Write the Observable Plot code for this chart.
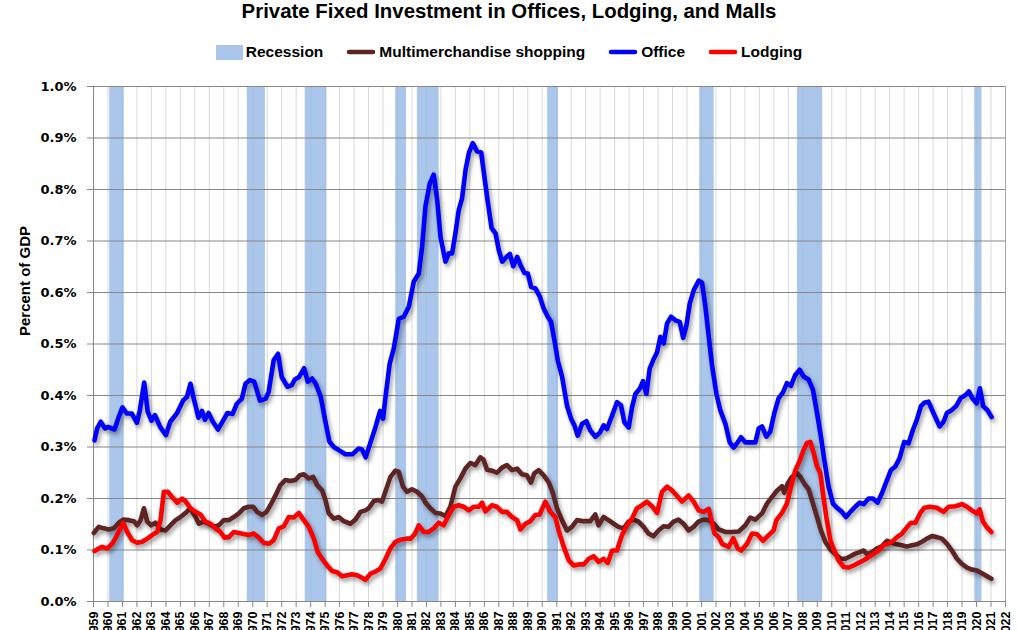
<!DOCTYPE html>
<html><head><meta charset="utf-8">
<script src="https://cdn.jsdelivr.net/npm/d3@7"></script>
<script src="https://cdn.jsdelivr.net/npm/@observablehq/plot@0.6"></script>
<style>
body{margin:0;background:#fff;width:1018px;overflow:hidden;}
#title{height:30px;line-height:30px;text-align:center;font:bold 20.4px "Liberation Sans",Arial,sans-serif;color:#000;}
#legend{height:44px;display:flex;justify-content:center;align-items:center;gap:23px;font:bold 15.5px "Liberation Sans",Arial,sans-serif;color:#000;}
.item{display:flex;align-items:center;gap:3px;}
#chart svg{display:block;}
#chart g[aria-label="line"]{filter:drop-shadow(2px 3px 2px rgba(0,0,0,0.4));}
#chart g[aria-label="y-axis tick label"]{font-family:"DejaVu Sans",sans-serif;font-weight:bold;font-size:13px;}
#chart g[aria-label="x-axis tick label"]{font-family:"Liberation Sans",Arial,sans-serif;font-weight:bold;font-size:12.5px;}
</style></head>
<body>
<div id="title">Private Fixed Investment in Offices, Lodging, and Malls</div>
<div id="legend"></div>
<div id="chart"></div>
<script>
const seriesNames = ["Recession", "Multimerchandise shopping", "Office", "Lodging"];
const seriesColors = ["#aac6ea", "#5e2323", "#0000ff", "#ff0000"];
const years = d3.range(1959, 2023);
const yTicks = [0, 0.1, 0.2, 0.3, 0.4, 0.5, 0.6, 0.7, 0.8, 0.9, 1.0];
const recStart = [1960.125, 1969.625, 1973.625, 1979.875, 1981.375, 1990.375, 2000.875, 2007.625, 2019.875];
const recEnd   = [1961.125, 1970.875, 1975.125, 1980.625, 1982.875, 1991.125, 2001.875, 2009.375, 2020.375];

const office = [[1959.07,0.313],[1959.25,0.336],[1959.5,0.349],[1959.8,0.336],[1960.0,0.339],[1960.45,0.334],[1960.7,0.355],[1961.0,0.377],[1961.3,0.365],[1961.65,0.365],[1962.0,0.347],[1962.2,0.371],[1962.5,0.425],[1962.75,0.368],[1963.0,0.351],[1963.25,0.362],[1963.6,0.339],[1964.0,0.323],[1964.3,0.349],[1964.75,0.365],[1965.2,0.391],[1965.45,0.397],[1965.7,0.423],[1965.9,0.397],[1966.25,0.357],[1966.5,0.37],[1966.7,0.353],[1966.95,0.366],[1967.25,0.349],[1967.6,0.334],[1967.9,0.349],[1968.25,0.366],[1968.6,0.364],[1968.9,0.384],[1969.25,0.394],[1969.5,0.423],[1969.8,0.43],[1970.1,0.427],[1970.5,0.39],[1970.9,0.394],[1971.1,0.407],[1971.45,0.469],[1971.75,0.481],[1972.0,0.436],[1972.4,0.417],[1972.7,0.42],[1972.9,0.431],[1973.2,0.436],[1973.55,0.453],[1973.8,0.427],[1974.1,0.433],[1974.35,0.423],[1974.7,0.397],[1975.0,0.352],[1975.3,0.31],[1975.6,0.3],[1975.95,0.294],[1976.4,0.286],[1976.9,0.286],[1977.3,0.297],[1977.55,0.295],[1977.8,0.28],[1978.1,0.306],[1978.45,0.336],[1978.8,0.37],[1979.0,0.355],[1979.17,0.397],[1979.46,0.462],[1979.74,0.491],[1980.09,0.549],[1980.43,0.553],[1980.78,0.572],[1981.12,0.621],[1981.47,0.637],[1981.7,0.689],[1981.93,0.767],[1982.23,0.812],[1982.5,0.829],[1982.74,0.78],[1982.97,0.708],[1983.31,0.66],[1983.54,0.676],[1983.77,0.676],[1984.0,0.715],[1984.23,0.76],[1984.46,0.783],[1984.7,0.838],[1984.93,0.871],[1985.2,0.89],[1985.5,0.874],[1985.78,0.872],[1986.0,0.825],[1986.25,0.773],[1986.5,0.725],[1986.77,0.715],[1987.0,0.682],[1987.23,0.66],[1987.53,0.669],[1987.76,0.675],[1987.99,0.651],[1988.27,0.669],[1988.5,0.653],[1988.77,0.638],[1989.0,0.637],[1989.23,0.611],[1989.53,0.608],[1989.83,0.592],[1990.1,0.569],[1990.38,0.553],[1990.61,0.543],[1990.84,0.507],[1991.07,0.468],[1991.37,0.436],[1991.71,0.38],[1991.99,0.355],[1992.22,0.342],[1992.45,0.322],[1992.75,0.345],[1993.05,0.35],[1993.32,0.332],[1993.67,0.32],[1993.96,0.327],[1994.24,0.342],[1994.47,0.335],[1994.82,0.361],[1995.16,0.387],[1995.44,0.381],[1995.67,0.348],[1995.97,0.338],[1996.2,0.377],[1996.43,0.403],[1996.73,0.413],[1996.96,0.428],[1997.19,0.403],[1997.42,0.452],[1997.7,0.471],[1997.93,0.484],[1998.16,0.514],[1998.39,0.501],[1998.62,0.54],[1998.9,0.553],[1999.2,0.546],[1999.5,0.543],[1999.73,0.512],[1999.96,0.536],[2000.19,0.579],[2000.47,0.605],[2000.81,0.623],[2001.04,0.619],[2001.27,0.572],[2001.5,0.514],[2001.73,0.458],[2002.03,0.403],[2002.3,0.371],[2002.65,0.345],[2002.95,0.309],[2003.22,0.299],[2003.5,0.309],[2003.73,0.319],[2004.03,0.309],[2004.37,0.309],[2004.72,0.309],[2004.95,0.336],[2005.18,0.34],[2005.48,0.32],[2005.75,0.33],[2006.03,0.366],[2006.33,0.395],[2006.63,0.406],[2006.9,0.424],[2007.18,0.419],[2007.48,0.44],[2007.78,0.45],[2008.05,0.437],[2008.4,0.431],[2008.7,0.411],[2008.98,0.366],[2009.25,0.32],[2009.48,0.275],[2009.78,0.223],[2010.08,0.19],[2010.4,0.181],[2010.7,0.174],[2010.98,0.164],[2011.28,0.174],[2011.62,0.184],[2011.92,0.192],[2012.2,0.189],[2012.54,0.2],[2012.84,0.2],[2013.16,0.192],[2013.46,0.21],[2013.76,0.232],[2014.08,0.255],[2014.38,0.262],[2014.68,0.278],[2015.0,0.31],[2015.3,0.307],[2015.6,0.333],[2015.88,0.353],[2016.15,0.379],[2016.38,0.386],[2016.68,0.388],[2017.02,0.366],[2017.44,0.34],[2017.72,0.349],[2017.95,0.366],[2018.3,0.372],[2018.6,0.38],[2018.9,0.395],[2019.24,0.401],[2019.47,0.408],[2019.7,0.395],[2020.0,0.385],[2020.23,0.414],[2020.46,0.379],[2020.74,0.372],[2021.04,0.358]];

const mall = [[1959.02,0.133],[1959.37,0.145],[1959.71,0.142],[1960.06,0.14],[1960.4,0.142],[1960.75,0.153],[1961.05,0.159],[1961.44,0.158],[1961.79,0.156],[1962.02,0.148],[1962.25,0.158],[1962.48,0.181],[1962.71,0.155],[1962.98,0.148],[1963.28,0.153],[1963.63,0.14],[1963.98,0.138],[1964.32,0.148],[1964.67,0.158],[1965.01,0.164],[1965.43,0.174],[1965.7,0.181],[1966.05,0.164],[1966.28,0.151],[1966.62,0.155],[1966.97,0.151],[1967.32,0.145],[1967.66,0.148],[1968.0,0.158],[1968.35,0.158],[1968.69,0.164],[1969.04,0.171],[1969.38,0.181],[1969.73,0.184],[1970.03,0.184],[1970.3,0.174],[1970.65,0.168],[1970.95,0.174],[1971.22,0.187],[1971.57,0.206],[1971.91,0.226],[1972.26,0.236],[1972.6,0.234],[1972.95,0.236],[1973.25,0.245],[1973.53,0.247],[1973.87,0.239],[1974.17,0.242],[1974.45,0.226],[1974.79,0.216],[1975.02,0.197],[1975.25,0.171],[1975.6,0.161],[1975.94,0.164],[1976.29,0.156],[1976.75,0.151],[1977.09,0.159],[1977.44,0.174],[1977.78,0.177],[1978.01,0.181],[1978.36,0.195],[1978.7,0.197],[1978.93,0.194],[1979.16,0.213],[1979.51,0.242],[1979.85,0.254],[1980.08,0.252],[1980.38,0.223],[1980.66,0.213],[1981.0,0.218],[1981.35,0.213],[1981.7,0.204],[1981.93,0.192],[1982.27,0.181],[1982.62,0.172],[1982.96,0.171],[1983.31,0.166],[1983.65,0.184],[1984.0,0.223],[1984.34,0.239],[1984.69,0.258],[1985.03,0.269],[1985.38,0.265],[1985.72,0.28],[1985.95,0.275],[1986.18,0.256],[1986.53,0.254],[1986.87,0.25],[1987.22,0.26],[1987.56,0.265],[1987.91,0.255],[1988.26,0.258],[1988.6,0.247],[1988.94,0.245],[1989.22,0.231],[1989.45,0.249],[1989.75,0.255],[1990.1,0.245],[1990.44,0.232],[1990.74,0.21],[1991.02,0.181],[1991.36,0.158],[1991.71,0.138],[1992.05,0.145],[1992.4,0.158],[1992.86,0.156],[1993.32,0.156],[1993.66,0.169],[1993.89,0.148],[1994.24,0.164],[1994.58,0.158],[1994.93,0.151],[1995.27,0.145],[1995.62,0.142],[1995.96,0.155],[1996.31,0.159],[1996.65,0.155],[1997.0,0.145],[1997.34,0.132],[1997.69,0.127],[1998.03,0.138],[1998.38,0.146],[1998.72,0.145],[1999.07,0.155],[1999.41,0.159],[1999.76,0.151],[2000.1,0.138],[2000.45,0.145],[2000.79,0.155],[2001.14,0.159],[2001.48,0.158],[2001.84,0.151],[2002.19,0.14],[2002.65,0.135],[2003.11,0.135],[2003.57,0.136],[2004.03,0.148],[2004.37,0.163],[2004.72,0.159],[2005.18,0.171],[2005.52,0.19],[2005.87,0.203],[2006.21,0.215],[2006.56,0.224],[2006.72,0.211],[2006.95,0.229],[2007.25,0.242],[2007.6,0.249],[2007.83,0.242],[2008.1,0.229],[2008.4,0.218],[2008.7,0.19],[2008.98,0.164],[2009.25,0.138],[2009.55,0.116],[2009.9,0.101],[2010.24,0.092],[2010.59,0.083],[2010.93,0.083],[2011.28,0.088],[2011.62,0.093],[2011.92,0.096],[2012.2,0.099],[2012.43,0.092],[2012.78,0.096],[2013.12,0.103],[2013.46,0.107],[2013.81,0.118],[2014.16,0.114],[2014.5,0.111],[2014.85,0.109],[2015.19,0.107],[2015.54,0.109],[2015.88,0.111],[2016.23,0.116],[2016.57,0.122],[2016.92,0.127],[2017.26,0.125],[2017.61,0.122],[2017.96,0.112],[2018.3,0.099],[2018.65,0.083],[2018.99,0.073],[2019.34,0.066],[2019.68,0.062],[2020.03,0.06],[2020.37,0.055],[2020.72,0.049],[2021.02,0.044]];

const lodging = [[1959.07,0.098],[1959.37,0.103],[1959.6,0.106],[1959.94,0.103],[1960.29,0.112],[1960.63,0.129],[1961.05,0.153],[1961.33,0.135],[1961.67,0.119],[1962.02,0.114],[1962.36,0.116],[1962.71,0.122],[1963.05,0.129],[1963.4,0.135],[1963.63,0.158],[1963.86,0.213],[1964.13,0.213],[1964.43,0.203],[1964.78,0.192],[1965.12,0.2],[1965.35,0.195],[1965.7,0.181],[1966.05,0.174],[1966.39,0.169],[1966.73,0.155],[1967.08,0.151],[1967.43,0.142],[1967.77,0.135],[1968.05,0.124],[1968.35,0.125],[1968.69,0.135],[1969.04,0.133],[1969.38,0.131],[1969.73,0.129],[1970.07,0.132],[1970.42,0.124],[1970.76,0.114],[1971.11,0.112],[1971.45,0.119],[1971.8,0.142],[1972.14,0.146],[1972.49,0.164],[1972.83,0.163],[1973.18,0.172],[1973.53,0.158],[1973.87,0.145],[1974.22,0.122],[1974.49,0.096],[1974.79,0.083],[1975.14,0.07],[1975.48,0.059],[1975.83,0.057],[1976.17,0.049],[1976.52,0.051],[1976.86,0.053],[1977.21,0.051],[1977.55,0.046],[1977.78,0.042],[1978.13,0.054],[1978.47,0.058],[1978.82,0.064],[1979.17,0.083],[1979.51,0.103],[1979.86,0.116],[1980.2,0.12],[1980.6,0.122],[1980.9,0.122],[1981.2,0.131],[1981.47,0.148],[1981.81,0.135],[1982.16,0.135],[1982.5,0.142],[1982.85,0.153],[1983.19,0.148],[1983.54,0.168],[1983.88,0.184],[1984.23,0.187],[1984.57,0.184],[1984.92,0.177],[1985.26,0.184],[1985.61,0.184],[1985.84,0.192],[1986.07,0.175],[1986.53,0.187],[1986.87,0.184],[1987.22,0.174],[1987.56,0.174],[1987.91,0.164],[1988.26,0.158],[1988.49,0.14],[1988.83,0.151],[1989.18,0.156],[1989.52,0.168],[1989.82,0.169],[1990.21,0.194],[1990.56,0.174],[1990.9,0.164],[1991.13,0.138],[1991.48,0.106],[1991.83,0.08],[1992.17,0.07],[1992.52,0.072],[1992.86,0.072],[1993.21,0.083],[1993.55,0.088],[1993.9,0.077],[1994.24,0.083],[1994.52,0.075],[1994.82,0.099],[1995.16,0.099],[1995.51,0.129],[1995.85,0.148],[1996.2,0.161],[1996.54,0.181],[1996.89,0.187],[1997.23,0.194],[1997.58,0.185],[1997.93,0.172],[1998.27,0.213],[1998.62,0.223],[1998.96,0.216],[1999.31,0.205],[1999.65,0.194],[2000.11,0.206],[2000.46,0.194],[2000.8,0.177],[2001.15,0.174],[2001.5,0.18],[2001.9,0.132],[2002.19,0.125],[2002.42,0.112],[2002.87,0.106],[2003.2,0.123],[2003.5,0.103],[2003.75,0.099],[2004.14,0.112],[2004.49,0.132],[2004.83,0.131],[2005.25,0.118],[2005.64,0.129],[2005.98,0.138],[2006.17,0.158],[2006.56,0.172],[2006.9,0.19],[2007.18,0.223],[2007.48,0.255],[2007.78,0.273],[2008.05,0.294],[2008.28,0.308],[2008.52,0.31],[2008.75,0.288],[2008.98,0.262],[2009.21,0.249],[2009.39,0.21],[2009.62,0.164],[2009.9,0.119],[2010.17,0.099],[2010.47,0.08],[2010.82,0.067],[2011.16,0.066],[2011.51,0.07],[2011.85,0.075],[2012.2,0.08],[2012.54,0.086],[2012.89,0.093],[2013.24,0.099],[2013.53,0.109],[2013.86,0.112],[2014.16,0.116],[2014.5,0.125],[2014.85,0.132],[2015.19,0.144],[2015.47,0.153],[2015.77,0.153],[2016.11,0.172],[2016.39,0.182],[2016.8,0.184],[2017.26,0.182],[2017.72,0.174],[2018.07,0.184],[2018.53,0.185],[2018.99,0.189],[2019.34,0.184],[2019.68,0.177],[2020.03,0.171],[2020.21,0.179],[2020.44,0.155],[2020.72,0.144],[2021.02,0.135]];

// legend
const legend = document.getElementById("legend");
seriesNames.forEach((name, i) => {
  const item = document.createElement("div");
  item.className = "item";
  const sw = i === 0
    ? `<svg width="27" height="15"><rect x="0" y="0" width="27" height="15" fill="${seriesColors[i]}"/></svg>`
    : `<svg width="30" height="10"><line x1="3" y1="5" x2="27" y2="5" stroke="${seriesColors[i]}" stroke-width="4.5" stroke-linecap="round"/></svg>`;
  item.innerHTML = sw + `<span>${name}</span>`;
  legend.appendChild(item);
});

const recessions = recStart.map((s, i) => ({start: s, end: recEnd[i]}));
const grey = "#878787";
const xy = {x: d => d[0], y: d => d[1], strokeWidth: 4.6, strokeLinejoin: "round", strokeLinecap: "round"};

const chart = Plot.plot({
  width: 1018, height: 567,
  marginTop: 12, marginBottom: 40, marginLeft: 93, marginRight: 13,
  x: {domain: [1959, 2022]},
  y: {domain: [0, 1]},
  style: {background: "white", color: "black", overflow: "visible"},
  marks: [
    Plot.ruleX(years.slice(1, -1), {stroke: "#d9d9d9", strokeWidth: 1}),
    Plot.rect(recessions, {x1: "start", x2: "end", y1: 0, y2: 1, fill: "#95b8e5", fillOpacity: 0.8}),
    Plot.ruleY(yTicks.slice(1), {stroke: grey, strokeWidth: 1}),
    Plot.ruleX([2022], {stroke: "#a6a6a6", strokeWidth: 1}),
    Plot.ruleX([1959], {stroke: grey, strokeWidth: 1}),
    Plot.ruleY([0], {stroke: grey, strokeWidth: 1}),
    Plot.axisY({ticks: yTicks, tickFormat: d => d.toFixed(1) + "%", tickSize: 6, tickPadding: 11, stroke: grey, label: null}),
    Plot.axisX({ticks: years, tickFormat: d => String(d), tickRotate: -90, tickSize: 6, tickPadding: 4, stroke: grey, label: null}),
    Plot.text(["Percent of GDP"], {frameAnchor: "left", dx: -68, dy: -8, rotate: -90, fontSize: 15, fontWeight: "bold", fontFamily: "Liberation Sans, Arial, sans-serif", fill: "black"}),
    Plot.line(mall, {...xy, stroke: seriesColors[1]}),
    Plot.line(office, {...xy, stroke: seriesColors[2]}),
    Plot.line(lodging, {...xy, stroke: seriesColors[3]})
  ]
});
document.getElementById("chart").appendChild(chart);
</script>
</body></html>
